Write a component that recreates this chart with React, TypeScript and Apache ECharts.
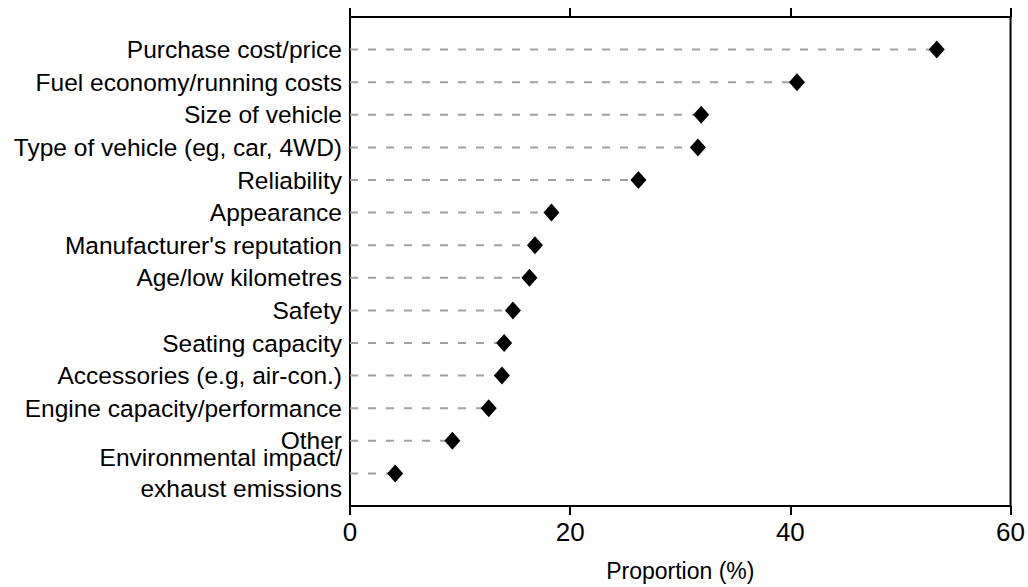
import React, { useEffect, useRef } from "react";
import * as echarts from "echarts";

const categories: string[] = [
  "Purchase cost/price",
  "Fuel economy/running costs",
  "Size of vehicle",
  "Type of vehicle (eg, car, 4WD)",
  "Reliability",
  "Appearance",
  "Manufacturer's reputation",
  "Age/low kilometres",
  "Safety",
  "Seating capacity",
  "Accessories (e.g, air-con.)",
  "Engine capacity/performance",
  "Other",
  "Environmental impact/\nexhaust emissions",
];

const values: number[] = [53.3, 40.6, 31.9, 31.6, 26.2, 18.3, 16.8, 16.3, 14.8, 14.0, 13.8, 12.6, 9.3, 4.1];

const xTicks: number[] = [0, 20, 40, 60];

const FONT = "'Liberation Sans', Arial, sans-serif";

export default function App() {
  const ref = useRef<HTMLDivElement>(null);
  useEffect(() => {
    if (!ref.current) return;
    const chart = echarts.init(ref.current, undefined, { renderer: "svg" });
    const yData = ["", ...categories, ""];
    const points = values.map((v, i) => [v, i + 1]);
    const xMin = xTicks[0];
    const xMax = xTicks[xTicks.length - 1];
    const xInt = xTicks[1] - xTicks[0];
    const tickStyle = { show: true, inside: false, length: 9, lineStyle: { color: "#000", width: 2 } };
    chart.setOption({
      animation: false,
      backgroundColor: "#fff",
      grid: {
        left: 350,
        right: 15,
        top: 17,
        bottom: 74,
        show: true,
        borderColor: "#000",
        borderWidth: 2,
        backgroundColor: "transparent",
      },
      xAxis: [
        {
          type: "value",
          position: "bottom",
          min: xMin,
          max: xMax,
          interval: xInt,
          axisLine: { show: true, lineStyle: { color: "#000", width: 2 } },
          axisTick: tickStyle,
          splitLine: { show: false },
          axisLabel: { color: "#000", fontSize: 26, fontFamily: FONT, margin: 13 },
          name: "Proportion (%)",
          nameLocation: "middle",
          nameGap: 53,
          nameTextStyle: { color: "#000", fontSize: 23, fontFamily: FONT },
        },
        {
          type: "value",
          position: "top",
          min: xMin,
          max: xMax,
          interval: xInt,
          axisLine: { show: true, lineStyle: { color: "#000", width: 2 } },
          axisTick: tickStyle,
          splitLine: { show: false },
          axisLabel: { show: false },
        },
      ],
      yAxis: {
        type: "category",
        data: yData,
        inverse: true,
        boundaryGap: false,
        axisLine: { show: true, lineStyle: { color: "#000", width: 2 } },
        axisTick: { show: false },
        splitLine: { show: false },
        axisLabel: {
          interval: 0,
          color: "#000",
          fontSize: 24.5,
          fontFamily: FONT,
          margin: 8,
          lineHeight: 31,
          align: "right",
        },
      },
      series: [
        {
          type: "custom",
          xAxisIndex: 0,
          data: points,
          z: 2,
          renderItem: (params: any, api: any) => {
            const start = api.coord([0, api.value(1)]);
            const end = api.coord([api.value(0), api.value(1)]);
            return {
              type: "line",
              shape: { x1: start[0], y1: start[1], x2: end[0], y2: end[1] },
              style: { stroke: "#a0a0a0", lineWidth: 2, lineDash: [8, 10] },
            };
          },
        },
        {
          type: "scatter",
          xAxisIndex: 0,
          data: points,
          symbol: "diamond",
          symbolSize: [16, 18],
          itemStyle: { color: "#000", opacity: 1 },
          z: 3,
        },
      ],
    });
    const onResize = () => chart.resize();
    window.addEventListener("resize", onResize);
    return () => {
      window.removeEventListener("resize", onResize);
      chart.dispose();
    };
  }, []);
  return (
    <div
      ref={ref}
      style={{ position: "fixed", left: 0, top: 0, right: 0, bottom: 0 }}
    />
  );
}
